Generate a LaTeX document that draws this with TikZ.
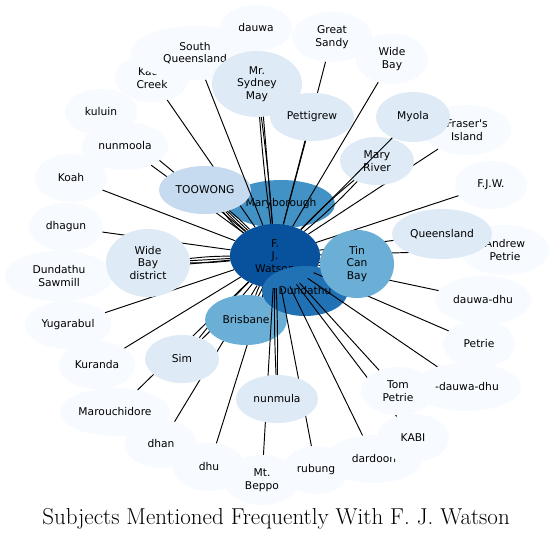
\documentclass[tikz,border=0pt]{standalone}
\usepackage{fontspec}
\newfontfamily\dejavu{DejaVu Sans}
\usetikzlibrary{shapes.geometric}
\definecolor{bA}{HTML}{F7FBFF}
\definecolor{bB}{HTML}{DEEBF7}
\definecolor{bC}{HTML}{C6DBEF}
\definecolor{bE}{HTML}{6BAED6}
\definecolor{bF}{HTML}{4292C6}
\definecolor{bG}{HTML}{2171B5}
\definecolor{bH}{HTML}{08519C}
\begin{document}
\begin{tikzpicture}[x=1pt,y=-1pt,
  nd/.style={ellipse,inner sep=0pt,align=center,text=black,
    font=\dejavu\fontsize{10.7}{12.5}\selectfont},
  ed/.style={draw=black,line width=0.95pt},
  bl/.style={ed,bend left=3},
  br/.style={ed,bend right=3}]
\useasboundingbox (0,0) rectangle (554,540);
\fill[white] (0,0) rectangle (554,540);
% order: node, then its edges
\node[nd,fill=bF,minimum width=108pt,minimum height=48pt] (maryb) at (281,204) {Maryborough};
\node[nd,fill=bH,minimum width=90pt,minimum height=64pt] (w) at (275,256) {F.\\J.\\Watson};
\node[nd,fill=bA,minimum width=72pt,minimum height=46pt] (kuluin) at (101,112) {kuluin};
\draw[ed] (w) -- (kuluin);
\node[nd,fill=bA,minimum width=86pt,minimum height=48pt] (nunmoola) at (125,146) {nunmoola};
\draw[ed] (w) -- (nunmoola);
\node[nd,fill=bA,minimum width=72pt,minimum height=48pt] (koah) at (71,178) {Koah};
\draw[ed] (w) -- (koah);
\node[nd,fill=bA,minimum width=74pt,minimum height=48pt] (dhagun) at (66,227) {dhagun};
\draw[ed] (w) -- (dhagun);
\node[nd,fill=bA,minimum width=108pt,minimum height=50pt] (dsaw) at (59,276) {Dundathu\\Sawmill};
\draw[ed] (w) -- (dsaw);
\node[nd,fill=bA,minimum width=86pt,minimum height=48pt] (yug) at (68,325) {Yugarabul};
\draw[ed] (w) -- (yug);
\node[nd,fill=bB,minimum width=84pt,minimum height=68pt] (wbd) at (148,263) {Wide\\Bay\\district};
\draw[ed] (w) -- (wbd); \draw[bl] (w) to (wbd); \draw[br] (w) to (wbd);
\node[nd,fill=bA,minimum width=74pt,minimum height=48pt] (kauri) at (152,78) {Kauri\\Creek};
\draw[ed] (w) -- (kauri);
\node[nd,fill=bC,minimum width=92pt,minimum height=48pt] (toowong) at (205,190) {TOOWONG};
\draw[ed] (w) -- (toowong); \draw[bl] (w) to (toowong); \draw[br] (w) to (toowong);
\draw[ed,bend left=7] (w) to (toowong);
\node[nd,fill=bA,minimum width=72pt,minimum height=46pt] (dauwa) at (256,28) {dauwa};
\draw[ed] (w) -- (dauwa);
\node[nd,fill=bA,minimum width=128pt,minimum height=54pt] (sq) at (195,53) {South\\Queensland};
\draw[ed] (w) -- (sq);
\node[nd,fill=bB,minimum width=90pt,minimum height=66pt] (msm) at (257,84) {Mr.\\Sydney\\May};
\draw[ed,bend left=1.5] (w) to (msm); \draw[ed,bend right=1.5] (w) to (msm);
\node[nd,fill=bA,minimum width=80pt,minimum height=50pt] (gsandy) at (332,37) {Great\\Sandy};
\draw[ed] (w) -- (gsandy);
\node[nd,fill=bB,minimum width=84pt,minimum height=48pt] (pett) at (312,117) {Pettigrew};
\draw[ed] (w) -- (pett);
\node[nd,fill=bA,minimum width=72pt,minimum height=50pt] (widebay) at (392,59) {Wide\\Bay};
\draw[ed] (w) -- (widebay);
\node[nd,fill=bA,minimum width=88pt,minimum height=50pt] (fraser) at (467,130) {Fraser's\\Island};
\draw[ed] (w) -- (fraser);
\node[nd,fill=bB,minimum width=74pt,minimum height=50pt] (myola) at (413,117) {Myola};
\node[nd,fill=bB,minimum width=74pt,minimum height=48pt] (maryriver) at (377,161) {Mary\\River};
\draw[bl] (w) to (maryriver); \draw[br] (w) to (maryriver);
\draw[ed] (w) -- (myola);
\node[nd,fill=bA,minimum width=72pt,minimum height=48pt] (fjw) at (491,185) {F.J.W.};
\draw[ed] (w) -- (fjw);
\node[nd,fill=bA,minimum width=76pt,minimum height=48pt] (kuranda) at (97,365) {Kuranda};
\draw[ed] (w) -- (kuranda);
\node[nd,fill=bA,minimum width=110pt,minimum height=48pt] (marouch) at (115,412) {Marouchidore};
\draw[ed] (w) -- (marouch);
\node[nd,fill=bA,minimum width=72pt,minimum height=48pt] (dhan) at (161,444) {dhan};
\draw[ed] (w) -- (dhan);
\node[nd,fill=bB,minimum width=74pt,minimum height=48pt] (sim) at (182,359) {Sim};
\draw[bl] (w) to (sim); \draw[br] (w) to (sim);
\node[nd,fill=bA,minimum width=72pt,minimum height=48pt] (dhu) at (209,467) {dhu};
\draw[ed] (w) -- (dhu);
\node[nd,fill=bE,minimum width=82pt,minimum height=50pt] (brisbane) at (246,320) {Brisbane};
\draw[bl] (w) to (brisbane); \draw[br] (w) to (brisbane);
\node[nd,fill=bG,minimum width=86pt,minimum height=50pt] (dundathu) at (305,291) {Dundathu};
\node[nd,fill=bA,minimum width=96pt,minimum height=48pt] (dardoon) at (374,459) {dardoon};
\draw[ed] (w) -- (dardoon);
\node[nd,fill=bA,minimum width=72pt,minimum height=48pt] (kabi) at (413,438) {KABI};
\draw[ed] (w) -- (kabi);
\node[nd,fill=bA,minimum width=66pt,minimum height=48pt] (rubung) at (316,470) {rubung};
\draw[ed] (w) -- (rubung);
\node[nd,fill=bA,minimum width=76pt,minimum height=50pt] (beppo) at (262,480) {Mt.\\Beppo};
\draw[ed] (w) -- (beppo);
\node[nd,fill=bB,minimum width=82pt,minimum height=48pt] (nunmula) at (277,399) {nunmula};
\draw[ed,bend left=1.5] (w) to (nunmula); \draw[ed,bend right=1.5] (w) to (nunmula);
\node[nd,fill=bA,minimum width=108pt,minimum height=48pt] (ddd) at (467,387) {-dauwa-dhu};
\draw[ed] (w) -- (ddd);
\node[nd,fill=bA,minimum width=74pt,minimum height=48pt] (tompetrie) at (398,391) {Tom\\Petrie};
\draw[ed] (w) -- (tompetrie);
\node[nd,fill=bA,minimum width=72pt,minimum height=48pt] (petrie) at (479,344) {Petrie};
\draw[ed] (w) -- (petrie);
\node[nd,fill=bA,minimum width=96pt,minimum height=48pt] (dauwadhu) at (483,300) {dauwa-dhu};
\draw[ed] (w) -- (dauwadhu);
\node[nd,fill=bA,minimum width=88pt,minimum height=50pt] (andrew) at (505,250) {Andrew\\Petrie};
\draw[ed] (w) -- (andrew);
\node[nd,fill=bB,minimum width=100pt,minimum height=50pt] (queensland) at (442,234) {Queensland};
\draw[ed] (w) -- (queensland);
\node[nd,fill=bE,minimum width=74pt,minimum height=68pt] (tcb) at (357,264) {Tin\\Can\\Bay};
\draw[ed] (w) -- (tcb); \draw[bl] (w) to (tcb); \draw[br] (w) to (tcb);
\node[font=\fontsize{23}{26}\selectfont] (title) at (276,519) {Subjects Mentioned Frequently With F. J. Watson};
\end{tikzpicture}
\end{document}
